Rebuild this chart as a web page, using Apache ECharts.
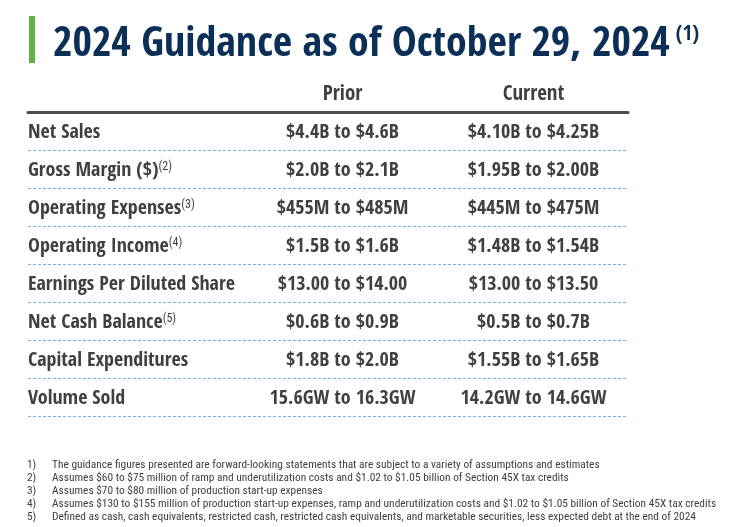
<!DOCTYPE html>
<html><head><meta charset="utf-8">
<script src="https://cdn.jsdelivr.net/npm/echarts@6/dist/echarts.min.js"></script>
<style>html,body{margin:0;padding:0;background:#fff}#c{width:746px;height:527px}</style>
</head><body><div id="c"></div>
<script>
const titleText = '2024 Guidance as of October 29, 2024';
const titleNote = '(1)';
const columns = ['Prior', 'Current'];
const metrics = ['Net Sales', 'Gross Margin ($)', 'Operating Expenses', 'Operating Income',
  'Earnings Per Diluted Share', 'Net Cash Balance', 'Capital Expenditures', 'Volume Sold'];
const metricNotes = ['', '(2)', '(3)', '(4)', '', '(5)', '', ''];
const priorValues = ['$4.4B to $4.6B', '$2.0B to $2.1B', '$455M to $485M', '$1.5B to $1.6B',
  '$13.00 to $14.00', '$0.6B to $0.9B', '$1.8B to $2.0B', '15.6GW to 16.3GW'];
const currentValues = ['$4.10B to $4.25B', '$1.95B to $2.00B', '$445M to $475M', '$1.48B to $1.54B',
  '$13.00 to $13.50', '$0.5B to $0.7B', '$1.55B to $1.65B', '14.2GW to 14.6GW'];
const footnoteNums = ['1)', '2)', '3)', '4)', '5)'];
const footnotes = [
  'The guidance figures presented are forward-looking statements that are subject to a variety of assumptions and estimates',
  'Assumes $60 to $75 million of ramp and underutilization costs and $1.02 to $1.05 billion of Section 45X tax credits',
  'Assumes $70 to $80 million of production start-up expenses',
  'Assumes $130 to $155 million of production start-up expenses, ramp and underutilization costs and $1.02 to $1.05 billion of Section 45X tax credits',
  'Defined as cash, cash equivalents, restricted cash, restricted cash equivalents, and marketable securities, less expected debt at the end of 2024'
];

const FONT = "'Open Sans Condensed', 'Roboto Condensed', 'DejaVu Sans Condensed', sans-serif";
const NFONT = "'Roboto Condensed', 'DejaVu Sans Condensed', sans-serif";
const TXT = '#404040';
const NAVY = '#0c2f57';

const chart = echarts.init(document.getElementById('c'), null, {renderer: 'canvas'});
const valueLabel = (arr) => ({
  show: true, position: 'inside', offset: [0, 2], color: TXT, fontFamily: FONT, fontWeight: 'bold', fontSize: 20, opacity: 1,
  formatter: p => arr[p.dataIndex]
});
chart.setOption({
  backgroundColor: '#fff',
  animation: false,
  title: [{
    left: 53, top: 24, padding: 0,
    text: titleText + '{sup|' + titleNote + '}',
    textStyle: {
      fontFamily: FONT, fontWeight: 'bold', fontSize: 42, color: NAVY, lineHeight: 42,
      rich: {sup: {fontFamily: FONT, fontWeight: 'bold', fontSize: 21, color: NAVY, lineHeight: 21, verticalAlign: 'top', padding: [0, 0, 0, 6]}}
    }
  }, {
    left: 27, top: 459, padding: 0,
    text: footnoteNums.map((n, i) => '{n|' + n + '}{t|' + footnotes[i] + '}').join('\n'),
    textStyle: {
      fontWeight: 'normal',
      rich: {
        n: {width: 25, fontFamily: NFONT, fontWeight: 'normal', fontSize: 11.4, lineHeight: 13, color: TXT},
        t: {fontFamily: NFONT, fontWeight: 'normal', fontSize: 11.4, lineHeight: 13, color: TXT}
      }
    }
  }],
  graphic: [{
    type: 'rect', left: 29, top: 16, shape: {width: 6, height: 47}, style: {fill: '#62b34a'}
  }],
  grid: [
    {left: 28, width: 600, top: 112, height: 304},
    {left: 247, width: 382, top: 112, height: 304}
  ],
  xAxis: [{
    gridIndex: 0, type: 'value', position: 'top', min: 0, max: 1, z: 5,
    axisLine: {show: true, onZero: false, lineStyle: {color: '#4d4d4d', width: 3}},
    axisTick: {show: false}, axisLabel: {show: false}, splitLine: {show: false}
  }, {
    gridIndex: 1, type: 'category', position: 'top', data: columns,
    axisLine: {show: false}, axisTick: {show: false}, splitLine: {show: false},
    axisLabel: {margin: 7, color: TXT, fontFamily: FONT, fontWeight: 'bold', fontSize: 21}
  }],
  yAxis: [{
    gridIndex: 0, type: 'category', inverse: true, data: metrics,
    axisLine: {show: false}, axisTick: {show: false},
    splitLine: {show: true, lineStyle: {color: '#6bb7e3', width: 1, type: [3, 2]}},
    axisLabel: {
      inside: true, margin: 0, align: 'left', color: TXT, fontFamily: FONT, fontWeight: 'bold', fontSize: 20,
      lineHeight: 20, padding: [4, 0, 0, 0],
      formatter: (v, i) => metricNotes[i] ? v + '{sup|' + metricNotes[i] + '}' : v,
      rich: {sup: {fontFamily: NFONT, fontWeight: 'normal', fontSize: 12, lineHeight: 12, color: TXT, verticalAlign: 'top'}}
    }
  }, {
    gridIndex: 1, type: 'category', inverse: true, data: metrics, show: false
  }],
  series: [{
    type: 'scatter', xAxisIndex: 1, yAxisIndex: 1, symbolSize: 1, itemStyle: {color: 'rgba(0,0,0,0)', opacity: 1},
    data: metrics.map(m => [columns[0], m]), label: valueLabel(priorValues)
  }, {
    type: 'scatter', xAxisIndex: 1, yAxisIndex: 1, symbolSize: 1, itemStyle: {color: 'rgba(0,0,0,0)', opacity: 1},
    data: metrics.map(m => [columns[1], m]), label: valueLabel(currentValues)
  }]
});
</script></body></html>
